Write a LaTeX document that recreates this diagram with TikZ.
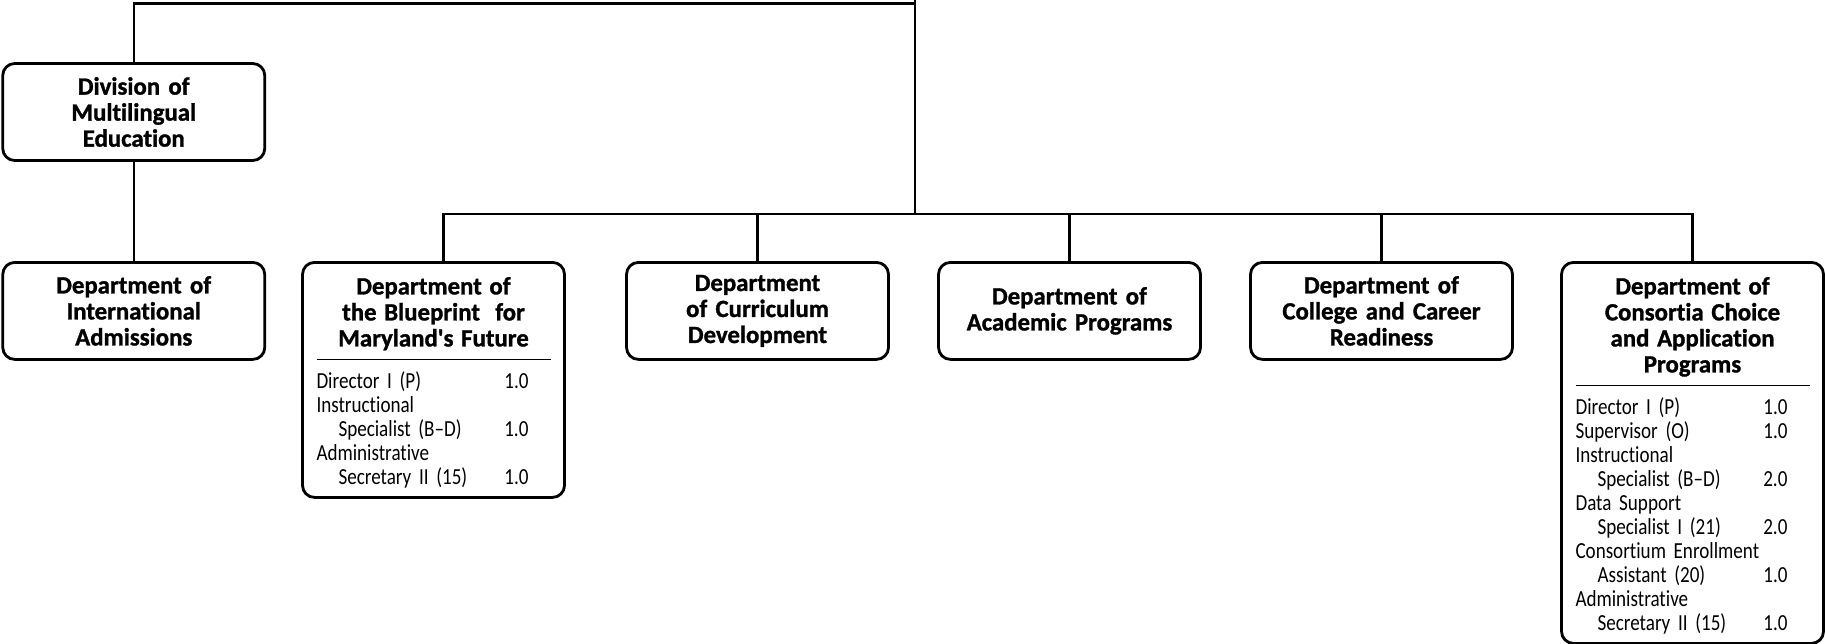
\documentclass[tikz,border=0pt]{standalone}
\usepackage{fontspec}
\setmainfont{Carlito}[Ligatures=NoCommon,FakeStretch=0.83,BoldFeatures={FakeStretch=1.0,FakeBold=1.2}]
\usepackage{tikz}
\newcommand{\staffline}[2]{\makebox[\hsize][l]{#1\hfill#2\hspace{11pt}}}
\newcommand{\subline}{\hspace*{11pt}}

\begin{document}
\begin{tikzpicture}[x=0.5pt,y=-0.5pt,
	unit/.style={draw,rounded corners=6pt,line width=1.4pt,text width=117pt,inner xsep=7pt,align=center,font=\fontsize{11.5}{12}\selectfont},
	dept/.style={unit,minimum height=48.5pt,font=\fontsize{12.4}{13}\selectfont\bfseries},
	staffed/.style={unit,inner ysep=0pt},
	link/.style={line width=1.2pt}]
	\useasboundingbox (0,0) rectangle (1825,643);
	\node[dept] (div) at (133.75,112) {Division of\\Multilingual\\Education};
	\node[dept,anchor=north] (intl) at (133.75,261) {Department of\\International\\Admissions};
	\node[staffed,anchor=north] (blue) at (433.5,261) {\rule{0pt}{16pt}{\fontsize{12.4}{12}\selectfont\bfseries Department of}\\[1pt]
		{\fontsize{12.4}{12}\selectfont\bfseries the Blueprint\ \ for}\\[1pt]
		{\fontsize{12.4}{12}\selectfont\bfseries Maryland\textquotesingle s Future}\\
		\rule[5.15pt]{\hsize}{0.7pt}\\[-3pt]
		\staffline{Director I (P)}{1.0}\\
		\staffline{Instructional}{}\\
		\staffline{\subline Specialist (B--D)}{1.0}\\
		\staffline{Administrative}{}\\
		\staffline{\subline Secretary II (15)}{1.0}\rule[-6.5pt]{0pt}{6.5pt}};
	\node[dept,anchor=north] (curr) at (757.5,261) {Department\\of Curriculum\\Development};
	\node[dept,anchor=north] (acad) at (1069.5,261) {Department of\\Academic Programs};
	\node[dept,anchor=north] (coll) at (1381.5,261) {Department of\\College and Career\\Readiness};
	\node[staffed,anchor=north] (cons) at (1692.5,261) {\rule{0pt}{16pt}{\fontsize{12.4}{12}\selectfont\bfseries Department of}\\[1pt]
		{\fontsize{12.4}{12}\selectfont\bfseries Consortia Choice}\\[1pt]
		{\fontsize{12.4}{12}\selectfont\bfseries and Application}\\[1pt]
		{\fontsize{12.4}{12}\selectfont\bfseries Programs}\\
		\rule[5.15pt]{\hsize}{0.7pt}\\[-3pt]
		\staffline{Director I (P)}{1.0}\\
		\staffline{Supervisor (O)}{1.0}\\
		\staffline{Instructional}{}\\
		\staffline{\subline Specialist (B--D)}{2.0}\\
		\staffline{Data Support}{}\\
		\staffline{\subline Specialist I (21)}{2.0}\\
		\staffline{Consortium Enrollment}{}\\
		\staffline{\subline Assistant (20)}{1.0}\\
		\staffline{Administrative}{}\\
		\staffline{\subline Secretary II (15)}{1.0}\rule[-6.5pt]{0pt}{6.5pt}};
	\coordinate (top) at (915,0);
	\coordinate (turn) at (915,3.5);
	\coordinate (hub) at (915,214);
	\draw[link] (top) -- (hub);
	\draw[link] (div.north) |- (turn);
	\draw[link] (div) -- (intl);
	\draw[link] (hub) -| ([xshift=5pt]blue.north);
	\foreach \n in {curr,acad,coll,cons}
		\draw[link] (hub) -| (\n.north);
\end{tikzpicture}
\end{document}
